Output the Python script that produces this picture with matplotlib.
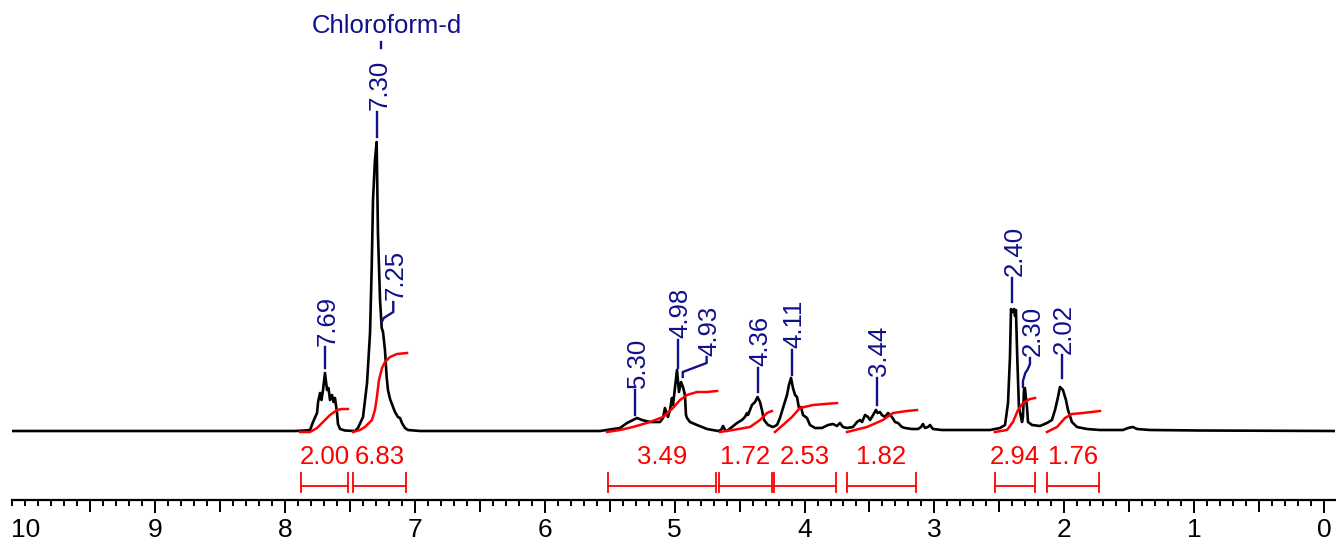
import matplotlib
matplotlib.use("Agg")
import matplotlib.pyplot as plt
from matplotlib.ticker import FixedLocator

plt.rcParams['font.family'] = ['Liberation Sans', 'DejaVu Sans']

# ---------------- data ----------------
# 1H NMR trace (chemical shift in ppm, intensity in arbitrary units)
spec_ppm = [10.10, 7.924, 7.847, 7.808, 7.785, 7.754, 7.746, 7.731, 7.720, 7.708,
            7.693, 7.677, 7.666, 7.654, 7.639, 7.627, 7.616, 7.600, 7.593, 7.577,
            7.539, 7.462, 7.439, 7.400, 7.369, 7.346, 7.333, 7.323, 7.308, 7.295,
            7.285, 7.269, 7.256, 7.246, 7.231, 7.218, 7.208, 7.192, 7.169, 7.154,
            7.131, 7.115, 7.100, 7.077, 7.054, 6.961,
            5.575, 5.421, 5.367, 5.321, 5.290, 5.252, 5.190, 5.113, 5.090, 5.075,
            5.059, 5.052, 5.036, 5.021, 5.013, 4.998, 4.982, 4.967, 4.951, 4.936,
            4.921, 4.913, 4.905, 4.882, 4.828, 4.751, 4.666, 4.643, 4.627, 4.612,
            4.597, 4.558, 4.520, 4.482, 4.459, 4.443, 4.435, 4.420, 4.405, 4.381,
            4.362, 4.343, 4.328, 4.312, 4.281, 4.243, 4.212, 4.189, 4.166, 4.135,
            4.120, 4.104, 4.089, 4.073, 4.058, 4.043, 4.027, 4.012, 3.981, 3.958,
            3.919, 3.866, 3.819, 3.781, 3.750, 3.727, 3.704, 3.673, 3.627, 3.596,
            3.573, 3.557, 3.534, 3.511, 3.496, 3.481, 3.450, 3.438, 3.419, 3.404,
            3.381, 3.357, 3.327, 3.303, 3.280, 3.250, 3.226, 3.173, 3.126, 3.103,
            3.088, 3.072, 3.049, 3.034, 3.011, 2.942,
            2.572, 2.495, 2.456, 2.433, 2.418, 2.410, 2.398, 2.387, 2.379, 2.372,
            2.362, 2.349, 2.325, 2.318, 2.310, 2.303, 2.287, 2.279, 2.248, 2.187,
            2.133, 2.095, 2.071, 2.048, 2.033, 2.010, 1.987, 1.971, 1.941, 1.902,
            1.825, 1.725, 1.548, 1.509, 1.471, 1.440, 1.340, 0.955, -0.085]
spec_int = [0, 0, 0.5, 1, 9, 18, 29, 38, 31, 41,
            58, 41, 43, 31, 36, 29, 33, 18, 7, 2,
            0.5, 0, 3, 14, 48, 98, 164, 231, 271, 289,
            198, 131, 103, 99, 81, 54, 41, 32, 24, 19,
            14, 13, 8, 3, 1, 0,
            0, 3, 8, 11, 13, 11, 9, 9, 13, 23,
            17, 14, 21, 33, 26, 43, 61, 39, 49, 44,
            36, 16, 13, 9, 6, 2, 0, 1, 5, 1,
            0, 4, 8, 11, 14, 18, 16, 21, 26, 29,
            34, 29, 21, 11, 6, 4, 6, 13, 23, 36,
            46, 53, 43, 36, 34, 23, 24, 16, 13, 6,
            3, 3, 6, 7, 5, 8, 4, 3, 4, 9,
            11, 9, 16, 14, 11, 14, 21, 18, 19, 16,
            14, 18, 14, 9, 8, 4, 3, 2, 2, 4,
            7, 3, 4, 6, 2, 1,
            1, 3, 6, 28, 74, 122, 119, 122, 115, 121,
            74, 24, 9, 14, 41, 43, 24, 9, 6, 5,
            8, 11, 21, 34, 44, 41, 31, 21, 9, 4,
            2, 1, 1, 3, 4, 2, 1, 0.5, 0]

# integral curves
int1_ppm = [7.885, 7.808, 7.754, 7.708, 7.654, 7.600, 7.562, 7.516]
int1_val = [-1, -1, 3, 9, 16, 21, 22, 22]
int2_ppm = [7.477, 7.423, 7.385, 7.331, 7.308, 7.293, 7.277, 7.254, 7.231, 7.192, 7.138, 7.061]
int2_val = [-1, 1, 4, 11, 21, 34, 51, 63, 69, 74, 77, 78]
int3_ppm = [5.521, 5.421, 5.321, 5.190, 5.090, 5.013, 4.959, 4.905, 4.828, 4.751, 4.674]
int3_val = [-1, 1, 4, 9, 14, 23, 31, 36, 39, 39, 40]
int4_ppm = [4.651, 4.551, 4.420, 4.343, 4.289, 4.251]
int4_val = [-1, 1, 4, 11, 18, 20]
int5_ppm = [4.228, 4.166, 4.097, 4.035, 3.935, 3.750]
int5_val = [-1, 6, 14, 23, 26, 28]
int6_ppm = [3.673, 3.519, 3.396, 3.319, 3.211, 3.134]
int6_val = [-1, 4, 11, 18, 20, 21]
int7_ppm = [2.534, 2.441, 2.395, 2.356, 2.318, 2.264, 2.225]
int7_val = [-1, 1, 9, 21, 28, 32, 33]
int8_ppm = [2.133, 2.056, 1.994, 1.941, 1.856, 1.725]
int8_val = [-1, 4, 13, 17, 18, 20]

# integration regions and values
integ_start = [7.878, 7.477, 5.516, 4.657, 4.233, 3.676, 2.534, 2.136]
integ_end = [7.516, 7.069, 4.679, 4.253, 3.755, 3.142, 2.226, 1.733]
integ_text = ["2.00", "6.83", "3.49", "1.72", "2.53", "1.82", "2.94", "1.76"]

# peak picking
peak_text = ["7.69", "7.30", "7.25", "5.30", "4.98", "4.93",
             "4.36", "4.11", "3.44", "2.40", "2.30", "2.02"]
peak_ppm = [7.693, 7.295, 7.256, 5.306, 4.977, 4.938,
            4.359, 4.099, 3.444, 2.402, 2.318, 2.020]
solvent_text = "Chloroform-d"
solvent_ppm = 7.26

tick_values = list(range(0, 11))

# ---------------- layout ----------------
# label connector paths: list of (ppm, y) for each label, text placed above last point
label_paths = [
    [(7.693, 63), (7.693, 84)],
    [(7.295, 294), (7.295, 319)],
    [(7.256, 109), (7.240, 113), (7.167, 119), (7.167, 129)],
    [(5.306, 16), (5.306, 41)],
    [(4.977, 63), (4.977, 91)],
    [(4.938, 54), (4.938, 59), (4.754, 68), (4.754, 74)],
    [(4.359, 39), (4.359, 63)],
    [(4.099, 56), (4.099, 81)],
    [(3.444, 26), (3.444, 53)],
    [(2.402, 129), (2.402, 153)],
    [(2.318, 44), (2.318, 50), (2.300, 58), (2.280, 62), (2.264, 67), (2.264, 73)],
    [(2.020, 53), (2.020, 76)],
]

NAVY = '#10108C'
RED = '#FF0000'

W, H = 1336, 542
fig = plt.figure(figsize=(W / 100, H / 100), dpi=100)
ax = fig.add_axes([12.4 / W, 42 / H, (1335 - 12.4) / W, 500 / H])
ax.set_xlim(10.1, -0.085)
ax.set_ylim(-69, 431)

# spectrum
ax.plot(spec_ppm, spec_int, color='black', lw=1.9, solid_joinstyle='round', zorder=3)

# integral curves
for xs, ys in [(int1_ppm, int1_val), (int2_ppm, int2_val), (int3_ppm, int3_val),
               (int4_ppm, int4_val), (int5_ppm, int5_val), (int6_ppm, int6_val),
               (int7_ppm, int7_val), (int8_ppm, int8_val)]:
    ax.plot(xs, ys, color=RED, lw=1.8, zorder=4)

# integration brackets
for a, b, t in zip(integ_start, integ_end, integ_text):
    ax.plot([a, b], [-55, -55], color=RED, lw=1.3, clip_on=False)
    ax.plot([a, a], [-42, -61], color=RED, lw=1.3, clip_on=False)
    ax.plot([b, b], [-42, -61], color=RED, lw=1.3, clip_on=False)
    ax.text((a + b) / 2, -32.5, t, color=RED, fontsize=18.5, ha='center', va='baseline')

# peak labels
for t, path in zip(peak_text, label_paths):
    xs = [p[0] for p in path]
    ys = [p[1] for p in path]
    ax.plot(xs, ys, color=NAVY, lw=1.7, zorder=5)
    ax.text(xs[-1] - 0.02, ys[-1] + 1.5, t, color=NAVY, fontsize=18.5, rotation=90,
            ha='center', va='bottom')

# solvent label
ax.plot([solvent_ppm, solvent_ppm], [383, 389], color=NAVY, lw=1.7)
ax.text(7.219, 398, solvent_text, color=NAVY, fontsize=18.5, ha='center', va='baseline')

# axes styling
for s in ['left', 'right', 'top']:
    ax.spines[s].set_visible(False)
ax.spines['bottom'].set_linewidth(1.6)
ax.set_yticks([])
ax.xaxis.set_major_locator(FixedLocator(tick_values))
ax.set_xticklabels([str(v) for v in tick_values])
ax.xaxis.set_minor_locator(FixedLocator([i / 10 for i in range(0, 102)]))
ax.tick_params(axis='x', which='major', direction='out', length=9.7, width=1.4,
               labelsize=19, pad=3)
ax.tick_params(axis='x', which='minor', direction='out', length=4.0, width=1.4)

sec = ax.secondary_xaxis('bottom')
sec.xaxis.set_major_locator(FixedLocator([i + 0.5 for i in range(0, 10)]))
sec.tick_params(axis='x', which='major', direction='out', length=8.3, width=1.4,
                labelbottom=False)
sec.xaxis.set_minor_locator(FixedLocator([]))
sec.spines['bottom'].set_visible(False)

for tk in ax.xaxis.get_major_ticks():
    if tk.get_loc() == 10:
        tk.tick1line.set_markersize(4.0)

fig.savefig('out.png', dpi=100)
